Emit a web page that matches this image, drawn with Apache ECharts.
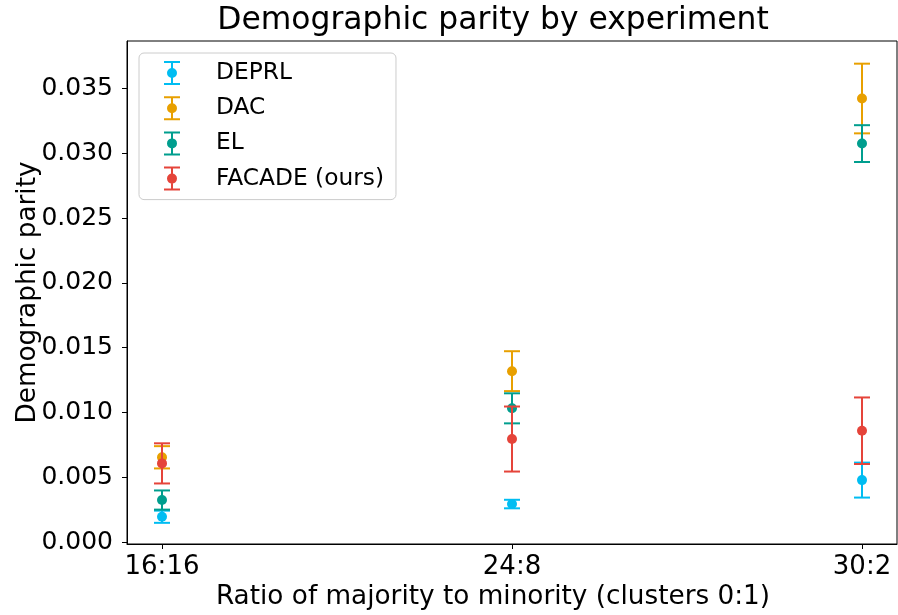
<!DOCTYPE html>
<html>
<head>
<meta charset="utf-8">
<script src="https://cdn.jsdelivr.net/npm/echarts@6/dist/echarts.min.js"></script>
<style>
  html, body { margin: 0; padding: 0; background: #ffffff; }
  #chart { width: 898px; height: 615px; }
</style>
</head>
<body>
<div id="chart"></div>
<script>
// Experiments: ratio of majority to minority cluster sizes
const categories = ['16:16', '24:8', '30:2'];

// Mean demographic parity and its error (half-length of the bar) per method
const deprlMean  = [0.00195, 0.00293, 0.00478];
const deprlErr   = [0.00047, 0.00033, 0.00135];
const dacMean    = [0.00654, 0.01319, 0.03424];
const dacErr     = [0.00086, 0.00154, 0.00269];
const elMean     = [0.00324, 0.01032, 0.03076];
const elErr      = [0.00074, 0.00116, 0.00142];
const facadeMean = [0.00607, 0.00795, 0.00859];
const facadeErr  = [0.00155, 0.00251, 0.00257];

// Y axis tick values
const yTicks = [0, 0.005, 0.010, 0.015, 0.020, 0.025, 0.030, 0.035];

const methods = [
  { name: 'DEPRL',         mean: deprlMean,  err: deprlErr,  color: '#00BDF2' },
  { name: 'DAC',           mean: dacMean,    err: dacErr,    color: '#E8A000' },
  { name: 'EL',            mean: elMean,     err: elErr,     color: '#009E8E' },
  { name: 'FACADE (ours)', mean: facadeMean, err: facadeErr, color: '#E5443A' }
];

const FONT = 'DejaVu Sans';
const CAP_HALF = 8;
const DOT_R = 5;

// Error-bar legend glyph: caps, stem and a dot
const errIcon = 'path://M0,0H16V2H0Z M7,2H9V22H7Z M0,22H16V24H0Z M8,7A5,5,0,1,1,8,17A5,5,0,1,1,8,7Z';

function renderErrorBar(params, api) {
  const x = api.value(0), m = api.value(1), e = api.value(2);
  const top = api.coord([x, m + e]);
  const bot = api.coord([x, m - e]);
  const mid = api.coord([x, m]);
  const color = api.visual('color');
  const lineStyle = { stroke: color, lineWidth: 2 };
  return {
    type: 'group',
    children: [
      { type: 'line', shape: { x1: top[0], y1: top[1], x2: bot[0], y2: bot[1] }, style: lineStyle },
      { type: 'line', shape: { x1: top[0] - CAP_HALF, y1: top[1], x2: top[0] + CAP_HALF, y2: top[1] }, style: lineStyle },
      { type: 'line', shape: { x1: bot[0] - CAP_HALF, y1: bot[1], x2: bot[0] + CAP_HALF, y2: bot[1] }, style: lineStyle },
      { type: 'circle', shape: { cx: mid[0], cy: mid[1], r: DOT_R }, style: { fill: color } }
    ]
  };
}

const series = methods.map((md, k) => ({
  name: md.name,
  type: 'custom',
  renderItem: renderErrorBar,
  itemStyle: { color: md.color },
  encode: { x: 0, y: 1 },
  z: 2 + k,
  data: categories.map((c, i) => [i, md.mean[i], md.err[i]])
}));

const chart = echarts.init(document.getElementById('chart'), null, { renderer: 'canvas' });
chart.setOption({
  animation: false,
  backgroundColor: '#ffffff',
  textStyle: { fontFamily: FONT },
  graphic: [{
    type: 'text',
    x: 493, y: 21,
    style: {
      text: 'Demographic parity by experiment',
      font: '31.4px "DejaVu Sans"',
      fill: '#000000',
      textAlign: 'center',
      textVerticalAlign: 'middle'
    }
  }],
  grid: {
    left: 127, right: 1, top: 41, bottom: 71,
    show: true, borderColor: '#000000', borderWidth: 1,
    containLabel: false,
    outerBoundsMode: 'none'
  },
  legend: {
    orient: 'vertical',
    left: 139, top: 53,
    padding: [8, 12, 9, 25],
    backgroundColor: 'rgba(255,255,255,0.8)',
    borderColor: '#cccccc', borderWidth: 1, borderRadius: 5,
    itemWidth: 16, itemHeight: 24, itemGap: 11.2,
    textStyle: { fontFamily: FONT, fontSize: 23.3, color: '#000000', padding: [0, 0, 0, 31], lineHeight: 24 },
    data: methods.map(md => ({ name: md.name, icon: errIcon }))
  },
  xAxis: {
    type: 'value',
    min: -0.1, max: 2.1,
    name: 'Ratio of majority to minority (clusters 0:1)',
    nameLocation: 'middle',
    nameGap: 40,
    nameMoveOverlap: false,
    nameTextStyle: { fontFamily: FONT, fontSize: 26.3, color: '#000000', padding: [0, 38, 0, 0] },
    splitLine: { show: false },
    axisLine: { show: true, onZero: false, lineStyle: { color: '#000000', width: 1 } },
    axisTick: { show: true, length: 5, inside: false, customValues: [0, 1, 2], lineStyle: { color: '#000000' } },
    axisLabel: {
      customValues: [0, 1, 2],
      formatter: v => categories[Math.round(v)],
      fontFamily: FONT, fontSize: 26, color: '#000000', margin: 10
    }
  },
  yAxis: {
    type: 'value',
    min: -0.000154, max: 0.03868,
    name: 'Demographic parity',
    nameLocation: 'middle',
    nameGap: 86,
    nameMoveOverlap: false,
    nameTextStyle: { fontFamily: FONT, fontSize: 26.3, color: '#000000' },
    splitLine: { show: false },
    axisLine: { show: true, onZero: false, lineStyle: { color: '#000000', width: 1 } },
    axisTick: { show: true, length: 5, inside: false, customValues: yTicks, lineStyle: { color: '#000000' } },
    axisLabel: {
      customValues: yTicks,
      formatter: v => v.toFixed(3),
      fontFamily: FONT, fontSize: 25, color: '#000000', margin: 14
    }
  },
  series: series
});
</script>
</body>
</html>
